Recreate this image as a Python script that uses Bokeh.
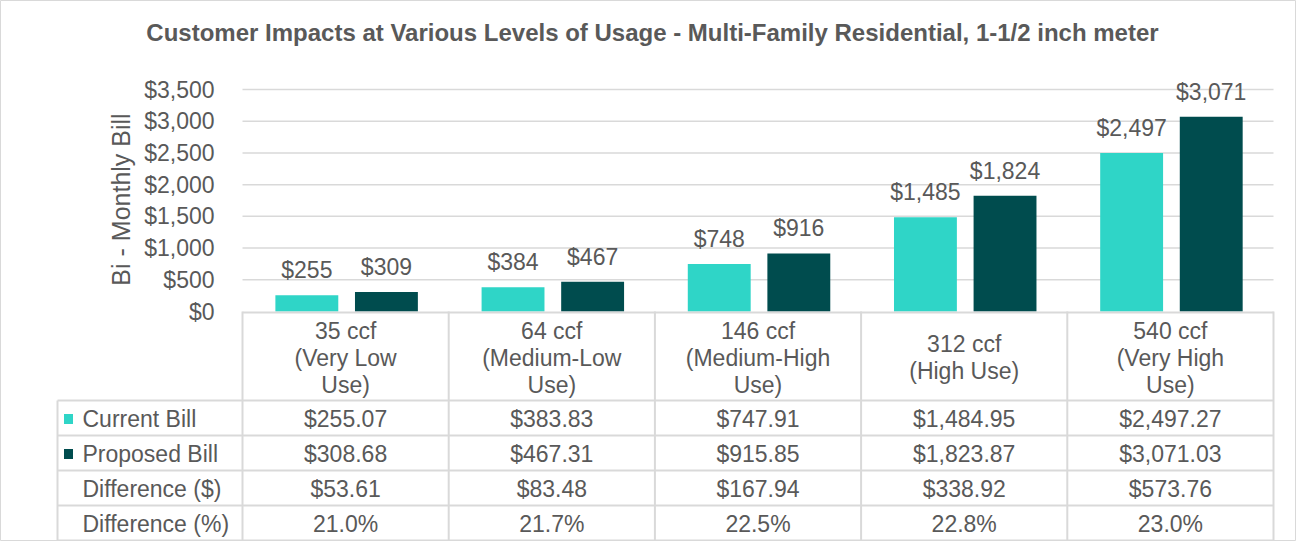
from math import pi
from bokeh.plotting import figure
from bokeh.models import Range1d
from bokeh.embed import file_html
from bokeh.resources import INLINE
from bokeh.core.properties import value

# ---------------- data ----------------
title = "Customer Impacts at Various Levels of Usage - Multi-Family Residential, 1-1/2 inch meter"
y_label = "Bi - Monthly Bill"
categories = ["35 ccf (Very Low Use)", "64 ccf (Medium-Low Use)", "146 ccf (Medium-High Use)",
              "312 ccf (High Use)", "540 ccf (Very High Use)"]
category_lines = [["35 ccf", "(Very Low", "Use)"],
                  ["64 ccf", "(Medium-Low", "Use)"],
                  ["146 ccf", "(Medium-High", "Use)"],
                  ["312 ccf", "(High Use)"],
                  ["540 ccf", "(Very High", "Use)"]]
current_bill = [255.07, 383.83, 747.91, 1484.95, 2497.27]
proposed_bill = [308.68, 467.31, 915.85, 1823.87, 3071.03]
difference_usd = [53.61, 83.48, 167.94, 338.92, 573.76]
difference_pct = [21.0, 21.7, 22.5, 22.8, 23.0]
series_names = ["Current Bill", "Proposed Bill"]
row_names = ["Current Bill", "Proposed Bill", "Difference ($)", "Difference (%)"]
y_ticks = [0, 500, 1000, 1500, 2000, 2500, 3000, 3500]

# ---------------- style / layout ----------------
TEAL = "#2FD5C7"
DARK = "#004C4E"
TEXT = "#595959"
GRID = "#D9D9D9"
FONT = value("Liberation Sans")
FS = "23px"

W, H = 1296, 541
PLOT_L, PLOT_R = 242, 1273          # px, plot area horizontally
Y0_PX, YTOP_PX = 311, 89            # px of $0 and $3500
HEADER_TOP, HEADER_BOT = 312, 400
ROW_H = 35
TABLE_L = 57
n = len(categories)
cat_w = (PLOT_R - PLOT_L) / n

# data ranges mapped so that the whole canvas is the frame
px_per_usd = (Y0_PX - YTOP_PX) / 3500.0
y_top = Y0_PX / px_per_usd
y_bot = -(H - Y0_PX) / px_per_usd
x_left = -PLOT_L / cat_w
x_right = (W - PLOT_L) / cat_w

p = figure(width=W, height=H, x_range=Range1d(x_left, x_right), y_range=Range1d(y_bot, y_top),
           output_backend="svg", toolbar_location=None, min_border=0,
           x_axis_type=None, y_axis_type=None)
p.extra_x_ranges = {"px": Range1d(0, W)}
p.extra_y_ranges = {"py": Range1d(H, 0)}
p.outline_line_color = GRID
p.outline_line_width = 1
p.background_fill_color = "white"

centers = [i + 0.5 for i in range(n)]

# gridlines
grid_ticks = [t for t in y_ticks if t > 0]
p.segment(x0=[PLOT_L] * len(grid_ticks), x1=[PLOT_R] * len(grid_ticks), y0=grid_ticks, y1=grid_ticks,
          x_range_name="px", line_color=GRID, line_width=1.5)

# bars
bw = 0.305
off_c, off_p = -0.188, 0.198
p.vbar(x=[c + off_c for c in centers], top=current_bill, bottom=0, width=bw, fill_color=TEAL, line_color=None)
p.vbar(x=[c + off_p for c in centers], top=proposed_bill, bottom=0, width=bw, fill_color=DARK, line_color=None)

# data labels
p.text(x=[c + off_c for c in centers], y=current_bill, text=["${:,.0f}".format(v) for v in current_bill],
       text_align="center", text_baseline="middle", y_offset=-25, text_font=FONT, text_font_size=FS,
       text_color=TEXT)
p.text(x=[c + off_p for c in centers], y=proposed_bill, text=["${:,.0f}".format(v) for v in proposed_bill],
       text_align="center", text_baseline="middle", y_offset=-25, text_font=FONT, text_font_size=FS,
       text_color=TEXT)

# y tick labels
p.text(x=[214] * len(y_ticks), y=y_ticks, text=["${:,.0f}".format(t) for t in y_ticks], x_range_name="px",
       text_align="right", text_baseline="middle", text_font=FONT, text_font_size=FS, text_color=TEXT)

# y axis title
p.text(x=[120], y=[199], text=[y_label], angle=pi / 2, x_range_name="px", y_range_name="py",
       text_align="center", text_baseline="middle", text_font=FONT, text_font_size="25px", text_color=TEXT)

# chart title
p.text(x=[652], y=[32], text=[title], x_range_name="px", y_range_name="py",
       text_align="center", text_baseline="middle", text_font=FONT, text_font_size="24px",
       text_font_style="bold", text_color=TEXT)

# ---------------- data table ----------------
col_edges = [PLOT_L + cat_w * i for i in range(n + 1)]
row_edges = [HEADER_BOT + ROW_H * i for i in range(len(row_names) + 1)]
# top line of header (axis line)
p.segment(x0=[PLOT_L], x1=[PLOT_R], y0=[Y0_PX + 1], y1=[Y0_PX + 1], x_range_name="px", y_range_name="py",
          line_color=GRID, line_width=2)
# vertical lines
p.segment(x0=col_edges, x1=col_edges, y0=[Y0_PX] * len(col_edges), y1=[row_edges[-1]] * len(col_edges),
          x_range_name="px", y_range_name="py", line_color=GRID, line_width=2)
p.segment(x0=[TABLE_L], x1=[TABLE_L], y0=[row_edges[0]], y1=[row_edges[-1]],
          x_range_name="px", y_range_name="py", line_color=GRID, line_width=2)
# horizontal lines
p.segment(x0=[TABLE_L] * len(row_edges), x1=[PLOT_R] * len(row_edges), y0=row_edges, y1=row_edges,
          x_range_name="px", y_range_name="py", line_color=GRID, line_width=2)

# header text
LINE_H = 27
hx, hy, ht = [], [], []
for i, lines in enumerate(category_lines):
    cx = PLOT_L + cat_w * (i + 0.5)
    mid = (HEADER_TOP + HEADER_BOT) / 2 + 1
    k = len(lines)
    for j, s in enumerate(lines):
        hx.append(cx)
        hy.append(mid + (j - (k - 1) / 2) * LINE_H)
        ht.append(s)
p.text(x=hx, y=hy, text=ht, x_range_name="px", y_range_name="py", text_align="center",
       text_baseline="middle", text_font=FONT, text_font_size=FS, text_color=TEXT)

# row labels and values
row_values = [["${:,.2f}".format(v) for v in current_bill],
              ["${:,.2f}".format(v) for v in proposed_bill],
              ["${:,.2f}".format(v) for v in difference_usd],
              ["{:.1f}%".format(v) for v in difference_pct]]
rx, ry, rt = [], [], []
vx, vy, vt = [], [], []
for r, name in enumerate(row_names):
    cy = row_edges[r] + ROW_H / 2 + 1
    rx.append(82)
    ry.append(cy)
    rt.append(name)
    for i in range(n):
        vx.append(PLOT_L + cat_w * (i + 0.5))
        vy.append(cy)
        vt.append(row_values[r][i])
p.text(x=rx, y=ry, text=rt, x_range_name="px", y_range_name="py", text_align="left",
       text_baseline="middle", text_font=FONT, text_font_size=FS, text_color=TEXT)
p.text(x=vx, y=vy, text=vt, x_range_name="px", y_range_name="py", text_align="center",
       text_baseline="middle", text_font=FONT, text_font_size=FS, text_color=TEXT)

# legend keys in table
key_y = [row_edges[0] + ROW_H / 2 + 1, row_edges[1] + ROW_H / 2 + 1]
p.rect(x=[68, 68], y=key_y, width=9, height=10, x_range_name="px", y_range_name="py",
       fill_color=[TEAL, DARK], line_color=None)

open("out.html", "w").write(file_html(p, INLINE))
